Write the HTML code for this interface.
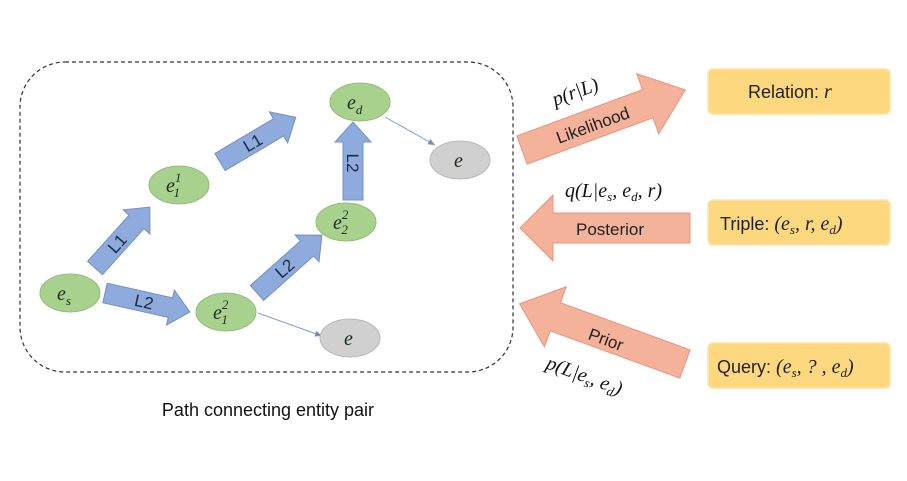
<!DOCTYPE html>
<html><head><meta charset="utf-8"><style>
html,body{margin:0;padding:0;background:#fff;}
svg{display:block;}
.m{font-family:"Liberation Serif",serif;font-style:italic;}
.s{font-family:"Liberation Sans",sans-serif;}
</style></head><body>
<svg width="907" height="481" viewBox="0 0 907 481" xmlns="http://www.w3.org/2000/svg">
<defs>
<marker id="ah" markerWidth="8" markerHeight="8" refX="7" refY="4" orient="auto" markerUnits="userSpaceOnUse"><path d="M0,1 L7,4 L0,7 z" fill="#6f8fbf"/></marker>
</defs>
<rect x="20" y="62" width="493" height="310" rx="45" fill="none" stroke="#333" stroke-width="1.2" stroke-dasharray="4,3"/>

<g fill="#8faadc" stroke="#7391c9" stroke-width="1">
<g transform="translate(95,268) rotate(-48)"><polygon points="0,-10 62,-10 62,-18 82,0 62,18 62,10 0,10"/><text x="33" y="6" font-size="17" class="s" fill="#1a2a40" stroke="none" text-anchor="middle">L1</text></g>
<g transform="translate(105,293) rotate(12.6)"><polygon points="0,-10 67,-10 67,-18 87,0 67,18 67,10 0,10"/><text x="40" y="6" font-size="17" class="s" fill="#1a2a40" stroke="none" text-anchor="middle">L2</text></g>
<g transform="translate(220,162) rotate(-30.6)"><polygon points="0,-10 68,-10 68,-18 88,0 68,18 68,10 0,10"/><text x="38" y="6" font-size="17" class="s" fill="#1a2a40" stroke="none" text-anchor="middle">L1</text></g>
<g transform="translate(257,293) rotate(-41.7)"><polygon points="0,-10 67,-10 67,-18 87,0 67,18 67,10 0,10"/><text x="37" y="6" font-size="17" class="s" fill="#1a2a40" stroke="none" text-anchor="middle">L2</text></g>
<g transform="translate(353,200) rotate(-90)"><polygon points="0,-10 58,-10 58,-18 78,0 58,18 58,10 0,10"/></g>
</g>
<text transform="translate(347,163) rotate(90)" font-size="17" class="s" fill="#1a2a40" text-anchor="middle">L2</text>

<line x1="385" y1="117" x2="435" y2="145" stroke="#7f9fcf" stroke-width="1" marker-end="url(#ah)"/>
<line x1="258" y1="313" x2="322" y2="336" stroke="#7f9fcf" stroke-width="1" marker-end="url(#ah)"/>

<g stroke="#94bd78" stroke-width="1" fill="#a9d18e">
<ellipse cx="70" cy="293" rx="30" ry="19"/>
<ellipse cx="179" cy="185" rx="30" ry="19"/>
<ellipse cx="226" cy="312" rx="30" ry="19"/>
<ellipse cx="346" cy="222" rx="30" ry="19"/>
<ellipse cx="360" cy="102" rx="30" ry="19"/>
</g>
<g stroke="#b8b8b8" stroke-width="1" fill="#d0d0d0">
<ellipse cx="460" cy="160" rx="30" ry="19"/>
<ellipse cx="350" cy="338" rx="30" ry="19"/>
</g>
<g class="m" fill="#1a2a1a" font-size="20">
<text x="57" y="300">e<tspan font-size="13" dy="5">s</tspan></text>
<text x="166" y="192">e<tspan font-size="13" dy="-10">1</tspan><tspan font-size="13" dx="-7" dy="15">1</tspan></text>
<text x="213" y="319">e<tspan font-size="13" dy="-10">2</tspan><tspan font-size="13" dx="-7" dy="15">1</tspan></text>
<text x="333" y="229">e<tspan font-size="13" dy="-10">2</tspan><tspan font-size="13" dx="-7" dy="15">2</tspan></text>
<text x="347" y="109">e<tspan font-size="13" dy="5">d</tspan></text>
<text x="454" y="167">e</text>
<text x="344" y="345">e</text>
</g>

<g fill="#f4b29a" stroke="#e7957d" stroke-width="1">
<g transform="translate(522,150) rotate(-20.2)"><polygon points="0,-15 134,-15 134,-32 174,0 134,32 134,15 0,15"/><text x="75" y="7" font-size="17" class="s" fill="#222" stroke="none" text-anchor="middle">Likelihood</text></g>
<polygon points="690,213 553,213 553,195 520,228 553,261 553,243 690,243"/>
<g transform="translate(685,364) rotate(-160)"><polygon points="0,-15 138,-15 138,-32 176,0 138,32 138,15 0,15"/></g>
</g>
<text x="610" y="235" font-size="17" class="s" fill="#222" text-anchor="middle">Posterior</text>
<text transform="translate(604,345) rotate(20)" font-size="17" class="s" fill="#222" text-anchor="middle">Prior</text>

<text transform="translate(555,106) rotate(-20)" font-size="20" class="m" fill="#111">p(r|L)</text>
<text x="565" y="197" font-size="20" class="m" fill="#111">q(L|e<tspan font-size="13" dy="4">s</tspan><tspan dy="-4">, e</tspan><tspan font-size="13" dy="4">d</tspan><tspan dy="-4">, r)</tspan></text>
<text transform="translate(545,368) rotate(20)" font-size="20" class="m" fill="#111">p(L|e<tspan font-size="13" dy="4">s</tspan><tspan dy="-4">, e</tspan><tspan font-size="13" dy="4">d</tspan><tspan dy="-4">)</tspan></text>

<g fill="#fed87e" stroke="#fbe3a8" stroke-width="1.5">
<rect x="708" y="69" width="182" height="45" rx="5"/>
<rect x="708" y="200" width="182" height="45" rx="5"/>
<rect x="708" y="343" width="182" height="45" rx="5"/>
</g>
<text x="748" y="98" font-size="18" class="s" fill="#222">Relation: <tspan class="m" font-size="20">r</tspan></text>
<text x="720" y="230" font-size="18" class="s" fill="#222">Triple: <tspan class="m" font-size="20">(e<tspan font-size="13" dy="4">s</tspan><tspan dy="-4">, r, e</tspan><tspan font-size="13" dy="4">d</tspan><tspan dy="-4">)</tspan></tspan></text>
<text x="717" y="373" font-size="18" class="s" fill="#222">Query: <tspan class="m" font-size="20">(e<tspan font-size="13" dy="4">s</tspan><tspan dy="-4">, ? , e</tspan><tspan font-size="13" dy="4">d</tspan><tspan dy="-4">)</tspan></tspan></text>

<text x="268" y="416" font-size="18" class="s" fill="#111" text-anchor="middle">Path connecting entity pair</text>
</svg>
</body></html>
